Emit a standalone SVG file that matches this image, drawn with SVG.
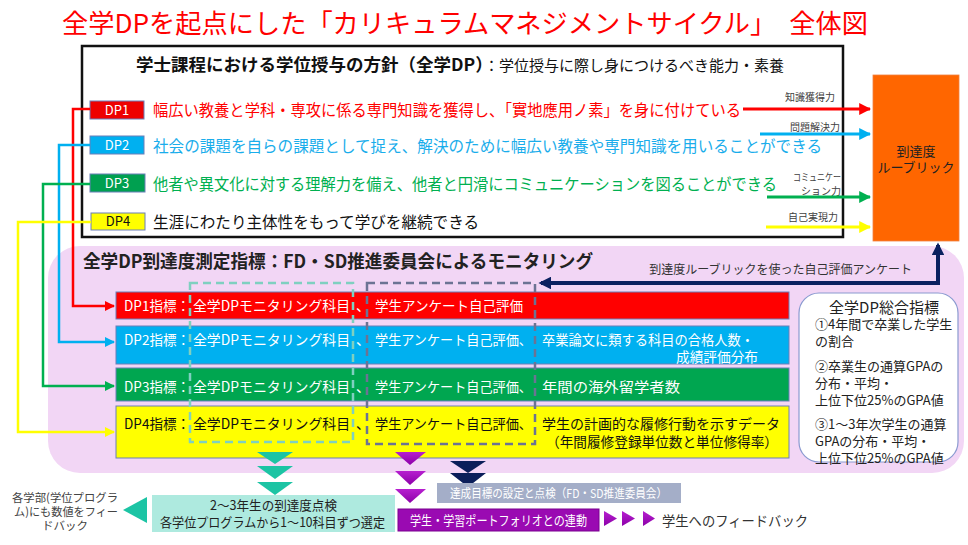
<svg xmlns="http://www.w3.org/2000/svg" width="968" height="545" viewBox="0 0 968 545">
<style>
text{font-family:"Noto Sans CJK JP","Noto Sans",sans-serif;}
.lbl{font-size:10px;fill:#404040;text-anchor:end;}
.dpt{font-size:16px;}
.row{font-size:14px;}
.w{fill:#ffffff;}
.k{fill:#111111;}
.sm{font-size:13px;fill:#222;}
</style>
<defs>
<marker id="mr" viewBox="0 0 10 10" refX="9" refY="5" markerWidth="4" markerHeight="4" orient="auto" markerUnits="strokeWidth"><path d="M0,0 L10,5 L0,10 z" fill="#FF0000"/></marker>
<marker id="mb" viewBox="0 0 10 10" refX="9" refY="5" markerWidth="4" markerHeight="4" orient="auto" markerUnits="strokeWidth"><path d="M0,0 L10,5 L0,10 z" fill="#00B0F0"/></marker>
<marker id="mg" viewBox="0 0 10 10" refX="9" refY="5" markerWidth="4" markerHeight="4" orient="auto" markerUnits="strokeWidth"><path d="M0,0 L10,5 L0,10 z" fill="#00B050"/></marker>
<marker id="my" viewBox="0 0 10 10" refX="9" refY="5" markerWidth="4" markerHeight="4" orient="auto" markerUnits="strokeWidth"><path d="M0,0 L10,5 L0,10 z" fill="#FFFF00"/></marker>
<marker id="mn" viewBox="0 0 10 10" refX="8" refY="5" markerWidth="3.2" markerHeight="3.2" orient="auto-start-reverse" markerUnits="strokeWidth"><path d="M0,0 L10,5 L0,10 z" fill="#0B2160"/></marker>
<linearGradient id="pg" x1="0" y1="0" x2="0" y2="1"><stop offset="0" stop-color="#B71FD0"/><stop offset="1" stop-color="#8C00A8"/></linearGradient>
</defs>

<!-- title -->
<text x="62" y="33" font-size="26" fill="#FF0000" textLength="806" lengthAdjust="spacingAndGlyphs">全学DPを起点にした「カリキュラムマネジメントサイクル」　全体図</text>

<!-- pink panel -->
<rect x="48" y="246" width="916" height="227" rx="32" fill="#F2D6F5"/>

<!-- top box -->
<g id="dp-box">
<rect x="82" y="46" width="761" height="191" fill="#ffffff" stroke="#111" stroke-width="2.5"/>
<text x="136" y="71" fill="#111"><tspan font-size="17.5" font-weight="bold">学士課程における学位授与の方針（全学DP）</tspan><tspan font-size="15">：学位授与に際し身につけるべき能力・素養</tspan></text>
</g>

<g id="dp1">
<rect x="90" y="101" width="54" height="18" fill="#EE0000" stroke="#6A7FB8" stroke-width="1"/>
<text x="117" y="115" font-size="13" fill="#fff" text-anchor="middle">DP1</text>
<text class="dpt" x="153" y="116" fill="#FF0000" textLength="588" lengthAdjust="spacingAndGlyphs">幅広い教養と学科・専攻に係る専門知識を獲得し、「實地應用ノ素」を身に付けている</text>
</g>
<g id="dp2">
<rect x="90" y="136" width="54" height="18" fill="#00B0F0" stroke="#6A7FB8" stroke-width="1"/>
<text x="117" y="150" font-size="13" fill="#fff" text-anchor="middle">DP2</text>
<text class="dpt" x="153" y="152" fill="#1AADEB" textLength="669" lengthAdjust="spacingAndGlyphs">社会の課題を自らの課題として捉え、解決のために幅広い教養や専門知識を用いることができる</text>
</g>
<g id="dp3">
<rect x="90" y="174" width="55" height="18" fill="#00A050" stroke="#6A7FB8" stroke-width="1"/>
<text x="117" y="188" font-size="13" fill="#fff" text-anchor="middle">DP3</text>
<text class="dpt" x="153" y="190" fill="#00B050" textLength="624" lengthAdjust="spacingAndGlyphs">他者や異文化に対する理解力を備え、他者と円滑にコミュニケーションを図ることができる</text>
</g>
<g id="dp4">
<rect x="91" y="213" width="54" height="17" fill="#FFFF00" stroke="#6A7FB8" stroke-width="1"/>
<text x="118" y="226" font-size="13" fill="#111" text-anchor="middle">DP4</text>
<text class="dpt" x="153" y="228" fill="#111" textLength="326" lengthAdjust="spacingAndGlyphs">生涯にわたり主体性をもって学びを継続できる</text>
</g>

<!-- rubric -->
<g id="rubric">
<rect x="873" y="75" width="86" height="166" fill="#FF6600" stroke="#F08040" stroke-width="0.8"/>
<text x="916" y="156" font-size="13" fill="#222" text-anchor="middle">到達度</text>
<text x="916" y="172" font-size="13" fill="#222" text-anchor="middle">ルーブリック</text>
</g>

<!-- right ability labels -->
<text class="lbl" x="835" y="101">知識獲得力</text>
<text class="lbl" x="840" y="131">問題解決力</text>
<text class="lbl" x="841" y="181" font-size="8" textLength="48" lengthAdjust="spacingAndGlyphs">コミュニケー</text>
<text class="lbl" x="841" y="195" font-size="8.5">ション力</text>
<text class="lbl" x="838" y="221">自己実現力</text>

<!-- pink panel header -->
<text x="83" y="268" font-size="18" font-weight="bold" fill="#222" textLength="510" lengthAdjust="spacingAndGlyphs">全学DP到達度測定指標：FD・SD推進委員会によるモニタリング</text>
<text x="912" y="274" font-size="12" fill="#333" text-anchor="end">到達度ルーブリックを使った自己評価アンケート</text>

<!-- indicator rows -->
<g id="row1">
<rect x="116" y="292" width="673" height="27" fill="#FF0000" stroke="#6A7FB8" stroke-width="1"/>
<text class="row w" y="311"><tspan x="124" textLength="66" lengthAdjust="spacingAndGlyphs">DP1指標：</tspan><tspan x="193" textLength="157" lengthAdjust="spacingAndGlyphs">全学DPモニタリング科目</tspan><tspan x="356">、</tspan><tspan x="375" textLength="148" lengthAdjust="spacingAndGlyphs">学生アンケート自己評価</tspan></text>
</g>
<g id="row2">
<rect x="116" y="326" width="673" height="38" fill="#00B0F0" stroke="#6A7FB8" stroke-width="1"/>
<text class="row w" y="345"><tspan x="124" textLength="66" lengthAdjust="spacingAndGlyphs">DP2指標：</tspan><tspan x="193" textLength="157" lengthAdjust="spacingAndGlyphs">全学DPモニタリング科目</tspan><tspan x="356">、</tspan><tspan x="375" font-size="13.5" textLength="157" lengthAdjust="spacingAndGlyphs">学生アンケート自己評価、</tspan><tspan x="542" textLength="212" lengthAdjust="spacingAndGlyphs">卒業論文に類する科目の合格人数・</tspan></text>
<text class="row w" x="676" y="362" textLength="82" lengthAdjust="spacingAndGlyphs">成績評価分布</text>
</g>
<g id="row3">
<rect x="116" y="368" width="673" height="33" fill="#00A650" stroke="#6A7FB8" stroke-width="1"/>
<text class="row w" y="392"><tspan x="124" textLength="66" lengthAdjust="spacingAndGlyphs">DP3指標：</tspan><tspan x="193" textLength="157" lengthAdjust="spacingAndGlyphs">全学DPモニタリング科目</tspan><tspan x="356">、</tspan><tspan x="375" font-size="13.5" textLength="157" lengthAdjust="spacingAndGlyphs">学生アンケート自己評価、</tspan><tspan x="542" textLength="138" lengthAdjust="spacingAndGlyphs">年間の海外留学者数</tspan></text>
</g>
<g id="row4">
<rect x="116" y="406" width="673" height="52" fill="#FFFF00" stroke="#6A7FB8" stroke-width="1"/>
<text class="row k" y="429"><tspan x="124" textLength="66" lengthAdjust="spacingAndGlyphs">DP4指標：</tspan><tspan x="193" textLength="157" lengthAdjust="spacingAndGlyphs">全学DPモニタリング科目</tspan><tspan x="356">、</tspan><tspan x="375" font-size="13.5" textLength="157" lengthAdjust="spacingAndGlyphs">学生アンケート自己評価、</tspan><tspan x="542" textLength="238" lengthAdjust="spacingAndGlyphs">学生の計画的な履修行動を示すデータ</tspan></text>
<text class="row k" x="546" y="447" textLength="232" lengthAdjust="spacingAndGlyphs">（年間履修登録単位数と単位修得率）</text>
</g>

<!-- dashed groupings -->
<rect x="190" y="283" width="163" height="159" fill="none" stroke="#7FD0C0" stroke-width="2.5" stroke-dasharray="8 5"/>
<rect x="367" y="283" width="168" height="161" fill="none" stroke="#6C7394" stroke-width="2.5" stroke-dasharray="8 5"/>

<!-- summary box -->
<g id="summary">
<rect x="799" y="293" width="159" height="169" rx="20" fill="#ffffff" stroke="#8A9AD0" stroke-width="1.2"/>
<text x="884" y="313" font-size="15" fill="#222" text-anchor="middle">全学DP総合指標</text>
<text class="sm" x="815" y="329">①4年間で卒業した学生</text>
<text class="sm" x="815" y="346">の割合</text>
<text class="sm" x="815" y="371">②卒業生の通算GPAの</text>
<text class="sm" x="815" y="388">分布・平均・</text>
<text class="sm" x="815" y="405">上位下位25%のGPA値</text>
<text class="sm" x="815" y="429">③1～3年次学生の通算</text>
<text class="sm" x="815" y="446">GPAの分布・平均・</text>
<text class="sm" x="815" y="463">上位下位25%のGPA値</text>
</g>

<!-- connectors -->
<g id="connectors" fill="none">
<path d="M743,109 H870" stroke="#FF0000" stroke-width="3" marker-end="url(#mr)"/>
<path d="M760,134 H870" stroke="#00B0F0" stroke-width="3" marker-end="url(#mb)"/>
<path d="M767,197 H870" stroke="#00B050" stroke-width="3" marker-end="url(#mg)"/>
<path d="M766,227 H870" stroke="#FFFF00" stroke-width="3" marker-end="url(#my)"/>
<path d="M90,109 H73 V306 H114" stroke="#FF0000" stroke-width="2.5" marker-end="url(#mr)"/>
<path d="M90,145 H59 V342 H114" stroke="#00B0F0" stroke-width="2.5" marker-end="url(#mb)"/>
<path d="M90,184 H43 V386 H114" stroke="#00B050" stroke-width="2.5" marker-end="url(#mg)"/>
<path d="M91,222 H18 V432 H114" stroke="#FFFF00" stroke-width="2.5" marker-end="url(#my)"/>
<path d="M541,283 H938 V245" stroke="#0B2160" stroke-width="4" marker-start="url(#mn)" marker-end="url(#mn)"/>
</g>

<!-- bottom triangles -->
<g id="tri-teal" fill="#1CC4A4">
<path d="M257,452 H293 L275,464 z"/>
<path d="M257,466 H293 L275,479 z"/>
<path d="M257,482 H293 L275,495 z"/>
<path d="M147,497 V523 L123,510 z"/>
</g>
<g id="tri-purple" fill="url(#pg)">
<path d="M395,452 H426 L410,465 z"/>
<path d="M395,471 H426 L410,485 z"/>
<path d="M395,489 H426 L410,503 z"/>
<path d="M604,511 L617,518.5 L604,526 z"/>
<path d="M622,511 L635,518.5 L622,526 z"/>
<path d="M643,511 L655,518.5 L643,526 z"/>
</g>
<g id="tri-navy" fill="#0B1E5A">
<path d="M450,461 H486 L468,473 z"/>
<path d="M450,473 H486 L468,487 z"/>
</g>

<!-- bottom boxes -->
<g id="check-box">
<rect x="152" y="495" width="243" height="37" fill="#AEEADF"/>
<text x="210" y="510" font-size="13" fill="#222" textLength="127" lengthAdjust="spacingAndGlyphs">2～3年生の到達度点検</text>
<text x="160" y="527" font-size="13" fill="#222" textLength="225" lengthAdjust="spacingAndGlyphs">各学位プログラムから1～10科目ずつ選定</text>
</g>
<g id="feedback-faculty">
<text x="12" y="502" font-size="11.5" fill="#444" textLength="106" lengthAdjust="spacingAndGlyphs">各学部(学位プログラ</text>
<text x="14" y="516" font-size="11.5" fill="#444" textLength="104" lengthAdjust="spacingAndGlyphs">ム)にも数値をフィー</text>
<text x="65" y="530" font-size="11.5" fill="#444" text-anchor="middle">ドバック</text>
</g>
<g id="goal-box">
<rect x="437" y="483" width="244" height="20" fill="#A4AEC8"/>
<text x="450" y="498" font-size="12" fill="#fff" textLength="217" lengthAdjust="spacingAndGlyphs">達成目標の設定と点検（FD・SD推進委員会）</text>
</g>
<g id="portfolio-box">
<rect x="398" y="509" width="201" height="22" fill="#9A0AB2" stroke="#7A0090" stroke-width="1"/>
<text x="410" y="525" font-size="13" fill="#fff" textLength="177" lengthAdjust="spacingAndGlyphs">学生・学習ポートフォリオとの連動</text>
</g>
<g id="feedback-student">
<text x="662" y="526" font-size="14" fill="#333" textLength="146" lengthAdjust="spacingAndGlyphs">学生へのフィードバック</text>
</g>
</svg>
